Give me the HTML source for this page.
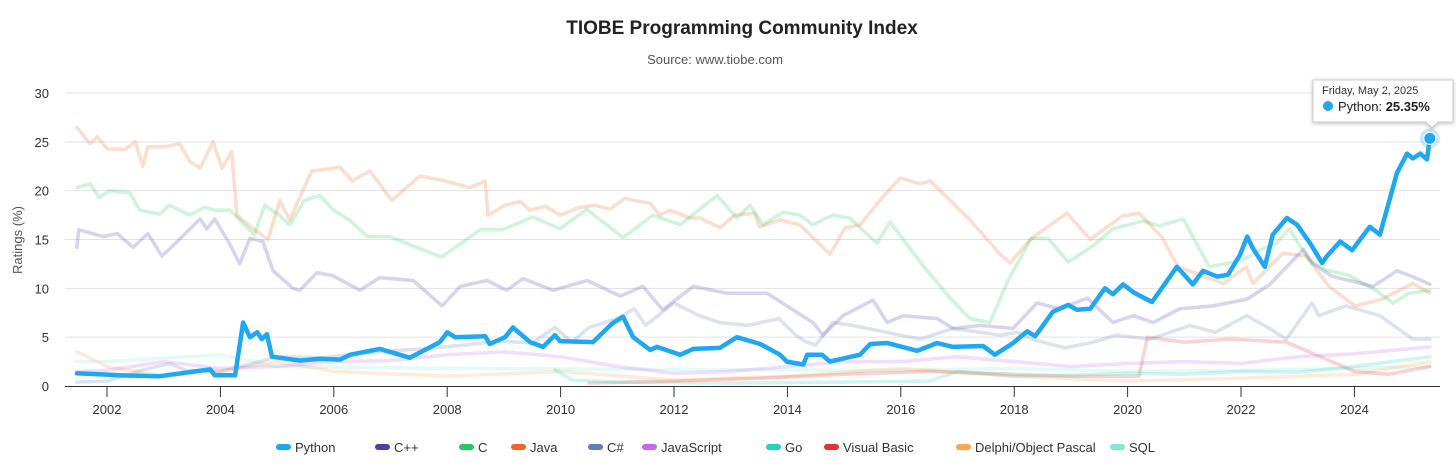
<!DOCTYPE html>
<html><head><meta charset="utf-8"><style>
html,body{margin:0;padding:0;background:#fff;width:1456px;height:468px;overflow:hidden;font-family:"Liberation Sans",sans-serif;}
svg text{font-family:"Liberation Sans",sans-serif;}
</style></head><body>
<svg id="chart" width="1456" height="468" xmlns="http://www.w3.org/2000/svg">
<text x="742" y="34" text-anchor="middle" font-size="19" font-weight="bold" fill="#222">TIOBE Programming Community Index</text>
<text x="715" y="64" text-anchor="middle" font-size="13" fill="#555">Source: www.tiobe.com</text>
<text transform="translate(22,240) rotate(-90)" text-anchor="middle" font-size="13" fill="#555">Ratings (%)</text>
<g id="grid"></g>
<g id="series"></g>
<g id="axes"></g>
<g id="legend"></g>
<g>
  <path d="M1313,80 h140 v42 h-15 l-6,6 l-6,-6 h-113 z" fill="#fff" stroke="#ccc" stroke-width="1" style="filter:drop-shadow(0 1px 2px rgba(0,0,0,0.25))"/>
  <text x="1322" y="94" font-size="11" fill="#333">Friday, May 2, 2025</text>
  <circle cx="1328" cy="106" r="5" fill="#1ea7f3"/>
  <text x="1338" y="111" font-size="13" fill="#222">Python: <tspan font-weight="bold">25.35%</tspan></text>
</g>
</svg>
<script>
const yTicks=[0,5,10,15,20,25,30];
const xTicks=[2002,2004,2006,2008,2010,2012,2014,2016,2018,2020,2022,2024];
const seriesNames=["Python","C++","C","Java","C#","JavaScript","Go","Visual Basic","Delphi/Object Pascal","SQL"];
const seriesColors=["#1ea7f3","#4b3fb0","#22cc55","#f26522","#5b80b8","#c864f0","#20d2c0","#e83030","#ffa64d","#80e6d6"];
const pythonData=[[2001.47,1.3],[2002.23,1.1],[2002.93,1.0],[2003.82,1.7],[2003.9,1.1],[2004.26,1.1],[2004.4,6.5],[2004.52,5.0],[2004.65,5.5],[2004.73,4.8],[2004.82,5.3],[2004.91,3.0],[2005.4,2.6],[2005.76,2.8],[2006.11,2.7],[2006.29,3.2],[2006.81,3.8],[2007.34,2.9],[2007.87,4.5],[2008.0,5.5],[2008.14,5.0],[2008.67,5.1],[2008.75,4.3],[2009.02,5.0],[2009.16,6.0],[2009.46,4.5],[2009.69,4.0],[2009.9,5.2],[2009.99,4.6],[2010.57,4.5],[2010.91,6.4],[2011.1,7.1],[2011.28,5.0],[2011.58,3.7],[2011.7,4.0],[2012.11,3.2],[2012.34,3.8],[2012.81,3.9],[2013.11,5.0],[2013.52,4.3],[2013.87,3.2],[2013.99,2.5],[2014.28,2.2],[2014.35,3.2],[2014.61,3.2],[2014.75,2.5],[2015.28,3.2],[2015.46,4.3],[2015.76,4.4],[2016.29,3.6],[2016.64,4.4],[2016.92,4.0],[2017.45,4.1],[2017.66,3.2],[2017.98,4.4],[2018.23,5.6],[2018.37,5.1],[2018.68,7.6],[2018.95,8.3],[2019.11,7.8],[2019.34,7.9],[2019.6,10.0],[2019.74,9.4],[2019.92,10.4],[2020.1,9.6],[2020.43,8.6],[2020.87,12.2],[2021.15,10.4],[2021.33,11.8],[2021.58,11.2],[2021.77,11.4],[2021.98,13.4],[2022.11,15.3],[2022.21,14.1],[2022.42,12.2],[2022.56,15.5],[2022.81,17.2],[2022.99,16.5],[2023.22,14.6],[2023.43,12.6],[2023.53,13.4],[2023.75,14.8],[2023.96,13.9],[2024.27,16.3],[2024.45,15.5],[2024.75,21.8],[2024.93,23.8],[2025.03,23.3],[2025.16,23.8],[2025.28,23.2],[2025.33,25.35]];
const cppData=[[2001.47,14.2],[2001.5,16.0],[2001.93,15.3],[2002.18,15.6],[2002.46,14.2],[2002.72,15.6],[2002.97,13.3],[2003.24,14.8],[2003.64,17.1],[2003.76,16.1],[2003.9,17.1],[2004.17,14.5],[2004.34,12.5],[2004.52,15.1],[2004.75,14.8],[2004.93,11.8],[2005.28,10.0],[2005.4,9.8],[2005.7,11.6],[2005.98,11.3],[2006.46,9.8],[2006.81,11.1],[2007.4,10.8],[2007.91,8.2],[2008.23,10.2],[2008.7,10.8],[2009.05,9.8],[2009.34,11.0],[2009.64,10.3],[2009.87,9.8],[2010.47,10.8],[2011.05,9.2],[2011.45,10.2],[2011.8,7.8],[2012.34,10.2],[2012.93,9.5],[2013.64,9.5],[2013.99,8.2],[2014.45,6.5],[2014.63,5.2],[2014.98,7.2],[2015.51,8.8],[2015.76,6.5],[2016.04,7.2],[2016.64,6.9],[2016.92,5.9],[2017.4,6.2],[2017.98,5.9],[2018.4,8.5],[2018.81,7.9],[2019.29,9.0],[2019.74,6.5],[2020.1,7.2],[2020.45,6.5],[2020.92,7.9],[2021.51,8.2],[2022.11,8.9],[2022.51,10.4],[2023.1,14.0],[2023.27,12.5],[2023.62,11.2],[2023.98,10.7],[2024.33,10.2],[2024.75,11.8],[2025.03,11.2],[2025.33,10.4]];
const cData=[[2001.47,20.3],[2001.7,20.7],[2001.86,19.3],[2002.05,20.0],[2002.4,19.8],[2002.58,18.0],[2002.93,17.6],[2003.1,18.5],[2003.46,17.5],[2003.72,18.3],[2003.9,18.0],[2004.17,18.0],[2004.46,16.3],[2004.6,15.5],[2004.78,18.5],[2005.04,17.5],[2005.22,16.5],[2005.48,19.0],[2005.75,19.5],[2006.0,18.0],[2006.27,17.0],[2006.6,15.3],[2006.98,15.3],[2007.9,13.2],[2008.58,16.0],[2008.98,16.0],[2009.51,17.3],[2009.99,16.1],[2010.46,18.1],[2011.1,15.2],[2011.63,17.5],[2012.11,16.5],[2012.76,19.5],[2013.11,17.2],[2013.34,18.5],[2013.57,16.5],[2013.92,17.8],[2014.22,17.5],[2014.45,16.5],[2014.8,17.5],[2015.1,17.2],[2015.58,14.6],[2015.81,16.8],[2016.34,12.7],[2016.87,9.0],[2017.22,6.9],[2017.57,6.5],[2017.9,10.9],[2018.3,15.1],[2018.6,15.1],[2018.95,12.7],[2019.4,14.4],[2019.74,16.1],[2020.27,16.9],[2020.56,16.4],[2020.98,17.1],[2021.44,12.2],[2022.04,12.9],[2022.32,13.9],[2022.62,14.6],[2022.85,16.1],[2023.2,12.9],[2023.5,11.9],[2023.91,11.3],[2024.38,9.8],[2024.68,8.5],[2024.96,9.5],[2025.33,9.8]];
const javaData=[[2001.47,26.5],[2001.7,24.8],[2001.83,25.5],[2002.0,24.3],[2002.32,24.2],[2002.5,25.0],[2002.63,22.5],[2002.72,24.5],[2003.02,24.5],[2003.28,24.8],[2003.46,23.0],[2003.64,22.3],[2003.87,25.0],[2004.03,22.3],[2004.2,24.0],[2004.29,17.5],[2004.6,16.0],[2004.84,15.0],[2005.05,19.0],[2005.22,17.0],[2005.61,22.0],[2006.11,22.4],[2006.32,21.0],[2006.64,22.0],[2007.02,19.0],[2007.52,21.5],[2007.96,21.0],[2008.4,20.3],[2008.67,21.0],[2008.72,17.5],[2009.02,18.5],[2009.29,18.9],[2009.46,18.0],[2009.73,18.4],[2009.99,17.5],[2010.34,18.3],[2010.61,18.5],[2010.87,18.1],[2011.13,19.2],[2011.58,18.7],[2011.75,17.5],[2011.93,18.0],[2012.28,17.2],[2012.46,17.2],[2012.81,16.2],[2013.07,17.5],[2013.42,17.7],[2013.51,16.3],[2013.87,17.0],[2014.22,16.5],[2014.75,13.5],[2015.02,16.2],[2015.28,16.5],[2015.63,19.0],[2015.99,21.3],[2016.34,20.7],[2016.52,21.0],[2017.22,17.0],[2017.75,13.5],[2017.93,12.6],[2018.28,15.0],[2018.93,17.7],[2019.34,15.0],[2019.9,17.4],[2020.2,17.7],[2020.6,15.3],[2020.89,12.2],[2021.69,10.5],[2022.09,12.2],[2022.21,10.5],[2022.74,13.6],[2023.15,13.3],[2023.55,10.2],[2024.01,8.2],[2024.49,8.9],[2025.03,10.5],[2025.33,9.5]];
const csharpData=[[2001.47,0.4],[2002.0,0.5],[2002.6,1.6],[2003.1,2.3],[2003.4,1.6],[2004.0,1.5],[2004.5,2.2],[2005.0,3.0],[2005.8,2.9],[2006.3,3.2],[2007.0,3.6],[2007.6,3.8],[2008.3,4.2],[2008.9,4.6],[2009.5,4.4],[2009.9,6.0],[2010.2,4.5],[2010.5,6.0],[2011.0,6.9],[2011.3,7.9],[2011.5,6.2],[2012.0,8.5],[2012.2,7.9],[2012.45,7.2],[2012.8,6.5],[2013.3,6.2],[2013.85,6.9],[2014.15,5.2],[2014.33,4.5],[2014.5,4.2],[2014.8,6.5],[2015.15,6.2],[2015.75,5.5],[2016.34,4.8],[2016.92,5.9],[2017.75,5.2],[2018.05,5.5],[2018.3,4.8],[2018.9,3.9],[2019.4,4.5],[2019.8,5.2],[2020.4,4.8],[2021.1,6.2],[2021.55,5.5],[2022.1,7.2],[2022.5,5.9],[2022.8,4.8],[2023.25,8.5],[2023.37,7.2],[2023.85,8.2],[2024.45,7.2],[2025.03,4.8],[2025.33,4.8]];
const jsData=[[2001.47,1.5],[2002.0,1.6],[2003.0,2.5],[2004.0,1.8],[2005.0,2.0],[2006.0,2.5],[2007.0,2.6],[2008.0,3.2],[2009.0,3.5],[2010.0,3.0],[2011.0,2.0],[2012.0,1.3],[2013.0,1.5],[2014.0,2.0],[2015.0,2.5],[2016.0,2.5],[2017.0,3.0],[2018.0,2.5],[2019.0,2.0],[2020.0,2.3],[2021.0,2.5],[2022.0,2.3],[2023.0,3.0],[2024.0,3.3],[2025.33,4.0]];
const goData=[[2009.9,1.7],[2010.2,0.6],[2011.0,0.4],[2013.0,0.3],[2015.0,0.4],[2016.5,0.5],[2017.0,1.5],[2018.0,1.0],[2019.0,1.1],[2020.0,1.3],[2021.0,1.2],[2022.0,1.5],[2023.0,1.4],[2024.0,2.0],[2025.33,3.0]];
const vbData=[[2010.5,0.3],[2012.0,0.5],[2013.5,0.8],[2015.0,1.2],[2016.5,1.5],[2018.0,1.2],[2019.0,1.0],[2020.2,1.0],[2020.35,5.0],[2021.0,4.5],[2021.8,4.8],[2022.8,4.5],[2023.4,3.0],[2024.0,1.5],[2024.6,1.2],[2025.33,2.0]];
const delphiData=[[2001.47,3.5],[2002.0,2.0],[2003.0,1.0],[2004.0,1.5],[2005.0,2.5],[2006.0,1.5],[2008.0,1.0],[2010.0,1.5],[2012.0,0.6],[2014.0,1.0],[2016.0,1.8],[2018.0,1.0],[2020.0,0.5],[2022.0,0.8],[2024.0,1.2],[2025.33,2.5]];
const sqlData=[[2001.47,2.5],[2002.0,2.5],[2004.0,3.2],[2005.0,2.0],[2008.0,1.8],[2012.0,1.7],[2016.0,1.6],[2018.0,1.8],[2020.0,1.5],[2022.0,1.6],[2024.0,1.8],[2025.33,2.0]];
const allData=[pythonData,cppData,cData,javaData,csharpData,jsData,goData,vbData,delphiData,sqlData];

const NS="http://www.w3.org/2000/svg";
function xS(yr){return 107+(yr-2002)*56.7;}
function yS(v){return 386-v*(293/30);}
function mk(tag,attrs,parent){const e=document.createElementNS(NS,tag);for(const k in attrs)e.setAttribute(k,attrs[k]);parent.appendChild(e);return e;}
const grid=document.getElementById('grid'),axes=document.getElementById('axes'),ser=document.getElementById('series'),leg=document.getElementById('legend');
yTicks.forEach(t=>{
  if(t>0){const l=mk('line',{x1:65,x2:1440,y1:yS(t),y2:yS(t),stroke:'#e3e3e3','stroke-width':1},grid);
  
  }
  const tx=mk('text',{x:49,y:yS(t)+5,'text-anchor':'end','font-size':13,fill:'#333'},axes);
  tx.textContent=t;
  
  
});
const ax=mk('line',{x1:65,x2:1440,y1:386.5,y2:386.5,stroke:'#333','stroke-width':1},axes);


xTicks.forEach(t=>{
  const tk=mk('line',{x1:xS(t),x2:xS(t),y1:386,y2:397,stroke:'#333','stroke-width':1},axes);
  
  
  const tx=mk('text',{x:xS(t),y:414,'text-anchor':'middle','font-size':13,fill:'#333'},axes);
  tx.textContent=t;
  
  
});
for(let i=allData.length-1;i>=0;i--){
  const d=allData[i].map((p,j)=>(j?'L':'M')+xS(p[0]).toFixed(1)+','+yS(p[1]).toFixed(1)).join(' ');
  const p=mk('path',{d:d,fill:'none',stroke:seriesColors[i],'stroke-width':i===0?4.5:3.5,'stroke-linejoin':'round','stroke-linecap':'round',opacity:i===0?1:0.22},ser);
  
  
}
const last=pythonData[pythonData.length-1];
mk('circle',{cx:xS(last[0]),cy:yS(last[1]),r:10,fill:'#1ea7f3',opacity:0.25},ser);
const hp=mk('circle',{cx:xS(last[0]),cy:yS(last[1]),r:6,fill:'#1ea7f3',stroke:'#fff','stroke-width':1},ser);


const legX=[276,375,459,511,588,642,766,824,956,1110];
seriesNames.forEach((n,i)=>{
  const g=mk('g',{},leg);
  
  
  mk('rect',{x:legX[i],y:444,width:15,height:6,rx:3,fill:seriesColors[i]},g);
  const t=mk('text',{x:legX[i]+19,y:452,'font-size':13,fill:'#333'},g);
  t.textContent=n;
});
</script>
</body></html>
